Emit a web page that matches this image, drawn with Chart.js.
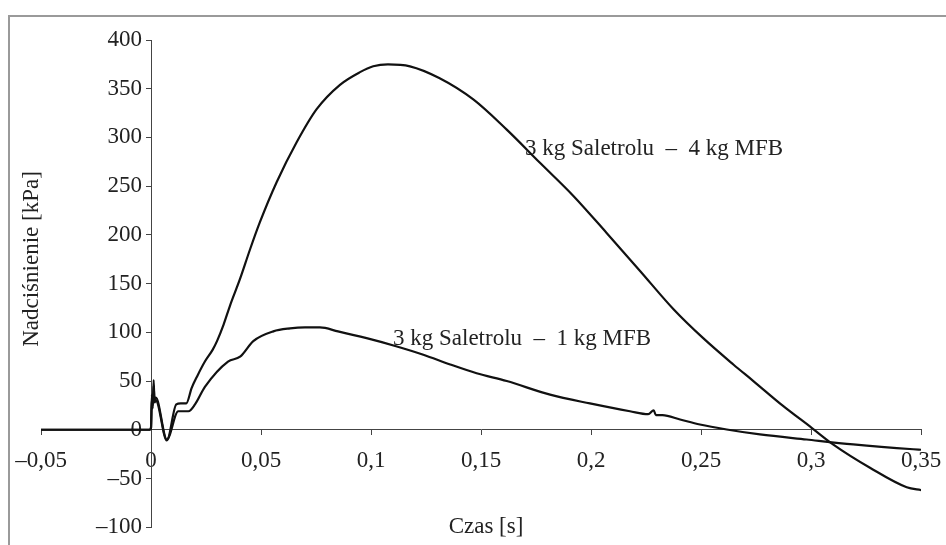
<!DOCTYPE html>
<html>
<head>
<meta charset="utf-8">
<script src="https://cdn.jsdelivr.net/npm/chart.js@4"></script>
<style>
  html, body { margin: 0; padding: 0; background: #fff; }
  #wrap { width: 946px; height: 545px; position: relative; }
</style>
</head>
<body>
<div id="wrap"><canvas id="chart" width="946" height="545"></canvas></div>
<script>
// 3 kg Saletrolu - 4 kg MFB
const time4 = [-0.05, -0.0005, 0, 0.0004, 0.0008, 0.0012, 0.0016, 0.0022, 0.0072, 0.0115, 0.0135, 0.016, 0.0185, 0.021, 0.0245, 0.028, 0.030, 0.033, 0.036, 0.0405, 0.045, 0.0495, 0.0571, 0.0662, 0.0753, 0.0859, 0.095, 0.101, 0.1077, 0.1177, 0.131, 0.1465, 0.1617, 0.1768, 0.192, 0.2071, 0.2223, 0.2374, 0.251, 0.2647, 0.2738, 0.287, 0.3003, 0.310, 0.3268, 0.3435, 0.3503];
const pressure4 = [0, 0, 2, 36, 22, 51, 28, 30, -11, 26, 27, 27, 43, 55, 70, 82, 91, 108, 128, 155, 185, 213, 254, 295, 329, 354, 367, 373, 375, 373, 361, 339, 308, 274, 240, 202, 163, 124, 94, 67, 50, 25, 2, -15, -39, -59, -62];

// 3 kg Saletrolu - 1 kg MFB
const time1 = [-0.05, -0.0005, 0, 0.0004, 0.0008, 0.0012, 0.0016, 0.0022, 0.0072, 0.0124, 0.017, 0.020, 0.0245, 0.035, 0.0405, 0.0465, 0.0556, 0.0632, 0.070, 0.0768, 0.085, 0.098, 0.111, 0.1238, 0.136, 0.148, 0.1617, 0.1814, 0.1995, 0.2177, 0.226, 0.2285, 0.2295, 0.2325, 0.2405, 0.2495, 0.2617, 0.2768, 0.298, 0.3192, 0.3465, 0.350];
const pressure1 = [0, 0, 2, 32, 25, 45, 30, 33, -10, 19, 19, 26, 44, 70, 75, 91, 101, 104, 105, 105, 101, 94, 86, 77, 67, 58, 50, 36, 27, 19, 16, 20, 15, 15, 10.5, 5.4, 0.3, -4.8, -10, -15, -20, -20.5];

const xTicks = [-0.05, 0, 0.05, 0.1, 0.15, 0.2, 0.25, 0.3, 0.35];
const xTickLabels = ['\u20130,05', '0', '0,05', '0,1', '0,15', '0,2', '0,25', '0,3', '0,35'];
const yTicks = [-100, -50, 0, 50, 100, 150, 200, 250, 300, 350, 400];
const yTickLabels = ['\u2013100', '\u201350', '0', '50', '100', '150', '200', '250', '300', '350', '400'];

const seriesLabels = ['3 kg Saletrolu  \u2013  4 kg MFB', '3 kg Saletrolu  \u2013  1 kg MFB'];
const xTitle = 'Czas [s]';
const yTitle = 'Nadci\u015bnienie [kPa]';

const FONT = '"Liberation Serif", "Times New Roman", serif';

const toPoints = (xs, ys) => xs.map((x, i) => ({ x: x, y: ys[i] }));

const decor = {
  id: 'decor',
  afterLayout(chart) {
    // put the y axis on x = 0, keep room for its labels to the left
    const y = chart.scales.y;
    const px = chart.scales.x.getPixelForValue(0);
    y.left = px - 110;
    y.right = px;
  },
  beforeDraw(chart) {
    const ctx = chart.ctx;
    ctx.save();
    ctx.fillStyle = '#fff';
    ctx.fillRect(0, 0, chart.width, chart.height);
    ctx.strokeStyle = '#9a9a9a';
    ctx.lineWidth = 2;
    ctx.beginPath();
    ctx.moveTo(9, chart.height);
    ctx.lineTo(9, 16);
    ctx.lineTo(chart.width, 16);
    ctx.stroke();
    ctx.restore();
  },
  beforeDatasetsDraw(chart) {
    const ctx = chart.ctx;
    const xs = chart.scales.x, ys = chart.scales.y;
    ctx.save();
    ctx.fillStyle = '#222';
    ctx.font = '23px ' + FONT;
    ctx.textBaseline = 'middle';
    ctx.textAlign = 'left';
    ctx.fillText(seriesLabels[0], xs.getPixelForValue(0.17), ys.getPixelForValue(288));
    ctx.fillText(seriesLabels[1], xs.getPixelForValue(0.11), ys.getPixelForValue(93));
    ctx.textAlign = 'center';
    ctx.fillText(xTitle, 486, 527);
    ctx.translate(32, 259);
    ctx.rotate(-Math.PI / 2);
    ctx.fillText(yTitle, 0, 0);
    ctx.restore();
  }
};

new Chart(document.getElementById('chart'), {
  type: 'line',
  data: {
    datasets: [{
      label: seriesLabels[0],
      data: toPoints(time4, pressure4),
      borderColor: '#111',
      borderWidth: 2.2,
      pointRadius: 0,
      cubicInterpolationMode: 'monotone'
    }, {
      label: seriesLabels[1],
      data: toPoints(time1, pressure1),
      borderColor: '#111',
      borderWidth: 2.2,
      pointRadius: 0,
      cubicInterpolationMode: 'monotone'
    }]
  },
  options: {
    responsive: false,
    animation: false,
    layout: { padding: { left: 41, right: 25, top: 40, bottom: 14 } },
    plugins: { legend: { display: false }, tooltip: { enabled: false } },
    scales: {
      x: {
        type: 'linear',
        position: { y: 0 },
        min: -0.05,
        max: 0.35,
        afterBuildTicks: (scale) => { scale.ticks = xTicks.map(v => ({ value: v })); },
        afterFit: (scale) => {
          scale.height = 0;
          scale.paddingLeft = 0;
          scale.paddingRight = 0;
        },
        grid: { drawOnChartArea: false, drawTicks: true, tickLength: 5, color: '#444' },
        border: { display: true, color: '#444', width: 1 },
        ticks: {
          color: '#222',
          font: { family: FONT, size: 23 },
          padding: 12,
          maxRotation: 0,
          autoSkip: false,
          callback: (v, i) => xTickLabels[i]
        }
      },
      y: {
        type: 'linear',
        position: 'left',
        min: -100,
        max: 400,
        afterBuildTicks: (scale) => { scale.ticks = yTicks.map(v => ({ value: v })); },
        afterFit: (scale) => { scale.width = 0; },
        grid: { drawOnChartArea: false, drawTicks: true, tickLength: 5, color: '#444' },
        border: { display: true, color: '#444', width: 1 },
        ticks: {
          color: '#222',
          font: { family: FONT, size: 23 },
          padding: 4,
          autoSkip: false,
          callback: (v, i) => yTickLabels[i]
        }
      }
    }
  },
  plugins: [decor]
});
</script>
</body>
</html>
